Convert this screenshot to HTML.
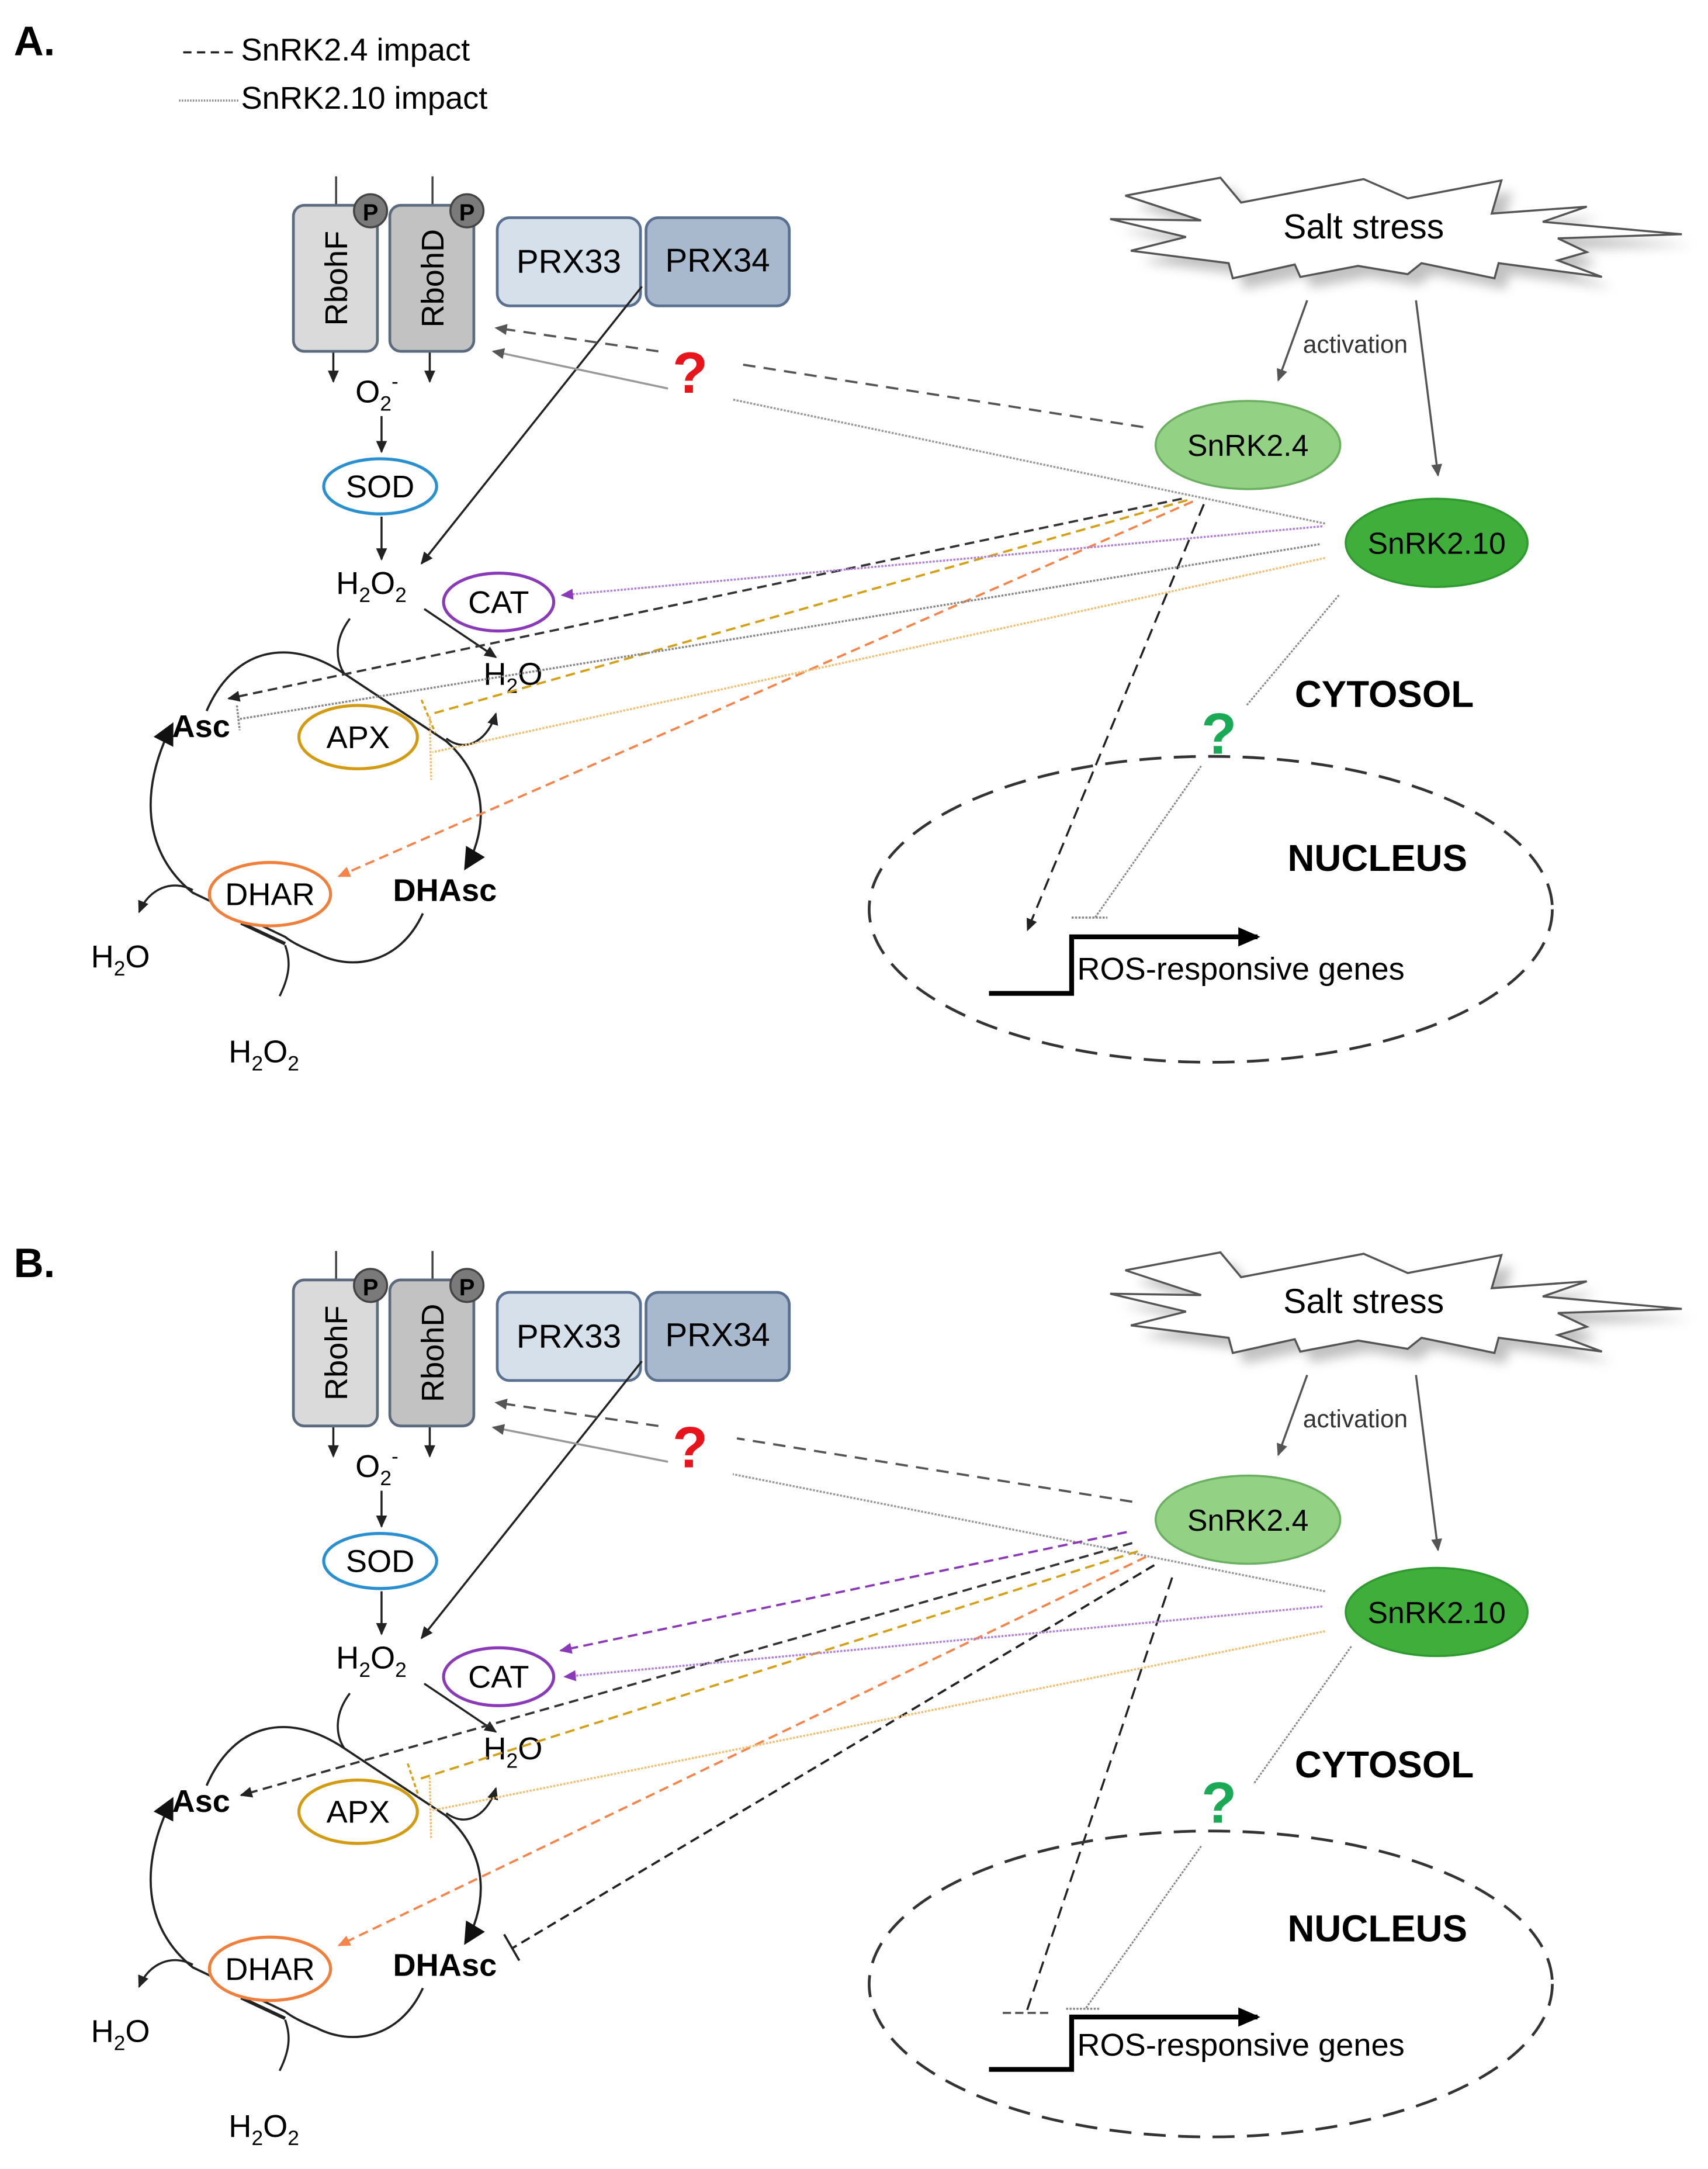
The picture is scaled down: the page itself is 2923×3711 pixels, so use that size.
<!DOCTYPE html>
<html><head><meta charset="utf-8"><style>
html,body{margin:0;padding:0;background:#fff}
svg{display:block}
text{font-family:"Liberation Sans",Arial,sans-serif}
</style></head><body>
<svg width="2923" height="3711" viewBox="0 0 1240 1574.3" preserveAspectRatio="none" xmlns="http://www.w3.org/2000/svg">
<defs>
<marker id="ak" markerWidth="10" markerHeight="10" refX="8" refY="5" orient="auto" markerUnits="userSpaceOnUse"><path d="M0,1 L9,5 L0,9 Z" fill="#222"/></marker>
<marker id="ag" markerWidth="10" markerHeight="10" refX="8" refY="5" orient="auto" markerUnits="userSpaceOnUse"><path d="M0,1 L9,5 L0,9 Z" fill="#555"/></marker>
<marker id="ap" markerWidth="10" markerHeight="10" refX="8" refY="5" orient="auto" markerUnits="userSpaceOnUse"><path d="M0,1 L9,5 L0,9 Z" fill="#8a3ab9"/></marker>
<marker id="ao" markerWidth="10" markerHeight="10" refX="8" refY="5" orient="auto" markerUnits="userSpaceOnUse"><path d="M0,1 L9,5 L0,9 Z" fill="#f4844a"/></marker>
<marker id="abig" markerWidth="18" markerHeight="18" refX="14" refY="9" orient="auto" markerUnits="userSpaceOnUse"><path d="M0,1 L16,9 L0,17 Z" fill="#111"/></marker>
<marker id="agene" markerWidth="18" markerHeight="16" refX="14" refY="8" orient="auto" markerUnits="userSpaceOnUse"><path d="M0,1 L16,8 L0,15 Z" fill="#000"/></marker>
<filter id="sh" x="-20%" y="-20%" width="140%" height="160%"><feGaussianBlur stdDeviation="4"/></filter>
</defs>

<!-- legend -->
<text x="10" y="40" font-size="30" font-weight="bold">A.</text>
<line x1="133" y1="38" x2="173" y2="38" stroke="#222" stroke-width="1.5" stroke-dasharray="6,4"/>
<text x="175" y="44" font-size="23">SnRK2.4 impact</text>
<line x1="130" y1="73" x2="173" y2="73" stroke="#888" stroke-width="1.5" stroke-dasharray="1,1"/>
<text x="175" y="79" font-size="23">SnRK2.10 impact</text>
<text x="10" y="927" font-size="30" font-weight="bold">B.</text>

<!-- ===== PANEL A ===== -->
<g id="pa">
<!-- Rboh -->
<line x1="244" y1="128" x2="244" y2="150" stroke="#444" stroke-width="1.5"/>
<line x1="314" y1="128" x2="314" y2="150" stroke="#444" stroke-width="1.5"/>
<rect x="213" y="149" width="61" height="106" rx="8" fill="#dadada" stroke="#5b6b7d" stroke-width="2"/>
<rect x="283" y="149" width="61" height="106" rx="8" fill="#c2c2c2" stroke="#5b6b7d" stroke-width="2"/>
<text transform="translate(252,202) rotate(-90)" font-size="23" text-anchor="middle">RbohF</text>
<text transform="translate(322,202) rotate(-90)" font-size="23" text-anchor="middle">RbohD</text>
<circle cx="269" cy="153" r="12" fill="#7a7a7a" stroke="#444" stroke-width="1.5"/>
<text x="269" y="160" font-size="17" font-weight="bold" text-anchor="middle">P</text>
<circle cx="339" cy="153" r="12" fill="#7a7a7a" stroke="#444" stroke-width="1.5"/>
<text x="339" y="160" font-size="17" font-weight="bold" text-anchor="middle">P</text>
<rect x="361" y="158" width="104" height="64" rx="9" fill="#d6e0ea" stroke="#5a7090" stroke-width="2"/>
<rect x="469" y="158" width="104" height="64" rx="9" fill="#a9b9cd" stroke="#5a7090" stroke-width="2"/>
<text x="413" y="198" font-size="24" text-anchor="middle">PRX33</text>
<text x="521" y="197" font-size="24" text-anchor="middle">PRX34</text>
<line x1="242" y1="256" x2="242" y2="277" stroke="#222" stroke-width="1.5" marker-end="url(#ak)"/>
<line x1="312" y1="256" x2="312" y2="277" stroke="#222" stroke-width="1.5" marker-end="url(#ak)"/>
<text x="258" y="292" font-size="23">O<tspan font-size="15" dy="6">2</tspan><tspan font-size="15" dy="-16">-</tspan></text>
<line x1="277" y1="302" x2="277" y2="328" stroke="#222" stroke-width="1.5" marker-end="url(#ak)"/>
<ellipse cx="276" cy="353" rx="41" ry="20" fill="#fff" stroke="#2a8fd0" stroke-width="2.2"/>
<text x="276" y="361" font-size="23" text-anchor="middle">SOD</text>
<line x1="277" y1="375" x2="277" y2="406" stroke="#222" stroke-width="1.5" marker-end="url(#ak)"/>
<text x="244" y="431" font-size="23">H<tspan font-size="15" dy="6">2</tspan><tspan dy="-6">O</tspan><tspan font-size="15" dy="6">2</tspan></text>
<line x1="466" y1="208" x2="306" y2="409" stroke="#222" stroke-width="1.5" marker-end="url(#ak)"/>
<ellipse cx="362" cy="437" rx="40" ry="21" fill="#fff" stroke="#8a3ab9" stroke-width="2.2"/>
<text x="362" y="445" font-size="23" text-anchor="middle">CAT</text>
<line x1="308" y1="442" x2="360" y2="477" stroke="#222" stroke-width="1.5" marker-end="url(#ak)"/>
<text x="351" y="497" font-size="23">H<tspan font-size="15" dy="6">2</tspan><tspan dy="-6">O</tspan></text>
<!-- cycle -->
<path d="M254,449 C242,465 244,480 250,489" fill="none" stroke="#222" stroke-width="1.5"/>
<path d="M150,516 C170,470 210,462 250,489 L324,538 C360,570 350,610 338,630" fill="none" stroke="#222" stroke-width="1.6" marker-end="url(#abig)"/>
<path d="M324,536 C340,548 355,535 360,518" fill="none" stroke="#222" stroke-width="1.5" marker-end="url(#ak)"/>
<ellipse cx="260" cy="535" rx="43" ry="23" fill="#fff" stroke="#d39b12" stroke-width="2.2"/>
<text x="260" y="543" font-size="23" text-anchor="middle">APX</text>
<text x="146" y="535" font-size="23" font-weight="bold" text-anchor="middle">Asc</text>
<text x="323" y="654" font-size="23" font-weight="bold" text-anchor="middle">DHAsc</text>
<path d="M307,663 C290,700 255,705 230,692 C220,688 212,684 207,680 L140,648 C105,620 100,575 125,526" fill="none" stroke="#222" stroke-width="1.6" marker-end="url(#abig)"/>
<line x1="175" y1="670" x2="207" y2="685" stroke="#222" stroke-width="2.5"/>
<path d="M140,646 C125,638 108,645 101,662" fill="none" stroke="#222" stroke-width="1.5" marker-end="url(#ak)"/>
<path d="M203,723 C212,705 210,695 207,686" fill="none" stroke="#222" stroke-width="1.5"/>
<ellipse cx="196" cy="649" rx="44" ry="23" fill="#fff" stroke="#f07f3c" stroke-width="2.2"/>
<text x="196" y="657" font-size="23" text-anchor="middle">DHAR</text>
<text x="66" y="702" font-size="23">H<tspan font-size="15" dy="6">2</tspan><tspan dy="-6">O</tspan></text>
<text x="166" y="771" font-size="23">H<tspan font-size="15" dy="6">2</tspan><tspan dy="-6">O</tspan><tspan font-size="15" dy="6">2</tspan></text>

<!-- salt stress -->
<polygon points="817,142 886,129 901,147 990,130 1022,144 1090,131 1083,155 1152,150 1120,161 1221,170 1131,173 1152,183 1131,189 1163,201 1088,191 1085,202 1032,191 1022,199 986,193 944,201 940,192 895,202 892,191 821,182 861,172 806,159 872,160" fill="#999" filter="url(#sh)" transform="translate(8,8)" opacity="0.6"/>
<polygon points="817,142 886,129 901,147 990,130 1022,144 1090,131 1083,155 1152,150 1120,161 1221,170 1131,173 1152,183 1131,189 1163,201 1088,191 1085,202 1032,191 1022,199 986,193 944,201 940,192 895,202 892,191 821,182 861,172 806,159 872,160" fill="#fff" stroke="#555" stroke-width="1.5"/>
<text x="990" y="173" font-size="25" text-anchor="middle">Salt stress</text>
<line x1="949" y1="218" x2="928" y2="276" stroke="#555" stroke-width="1.5" marker-end="url(#ag)"/>
<line x1="1028" y1="218" x2="1044" y2="345" stroke="#555" stroke-width="1.5" marker-end="url(#ag)"/>
<text x="984" y="256" font-size="18" text-anchor="middle" fill="#333">activation</text>
<ellipse cx="906" cy="323" rx="67" ry="32" fill="#93d184" stroke="#6ab060" stroke-width="1.5"/>
<text x="906" y="331" font-size="22" text-anchor="middle">SnRK2.4</text>
<ellipse cx="1043" cy="394" rx="66" ry="32" fill="#3fae3a" stroke="#2f9a2f" stroke-width="1.5"/>
<text x="1043" y="402" font-size="22" text-anchor="middle">SnRK2.10</text>

<!-- connectors to Rboh -->
<line x1="830" y1="310" x2="535" y2="264" stroke="#555" stroke-width="1.6" stroke-dasharray="9,6"/>
<line x1="478" y1="255" x2="360" y2="238" stroke="#555" stroke-width="1.6" stroke-dasharray="9,6" marker-end="url(#ag)"/>
<line x1="962" y1="380" x2="532" y2="290" stroke="#999" stroke-width="1.5" stroke-dasharray="1.5,1"/>
<line x1="485" y1="282" x2="358" y2="255" stroke="#999" stroke-width="1.5" marker-end="url(#ag)"/>
<text x="501" y="285" font-size="42" font-weight="bold" fill="#e8141b" text-anchor="middle">?</text>

<!-- SnRK2.4 impacts -->
<line x1="858" y1="362" x2="166" y2="507" stroke="#333" stroke-width="1.6" stroke-dasharray="7,4" marker-end="url(#ak)"/>
<line x1="862" y1="363" x2="314" y2="518" stroke="#d4a017" stroke-width="1.6" stroke-dasharray="7,4"/>
<line x1="306" y1="508" x2="316" y2="532" stroke="#d4a017" stroke-width="1.5" stroke-dasharray="3,2"/>
<line x1="866" y1="364" x2="246" y2="636" stroke="#f4844a" stroke-width="1.6" stroke-dasharray="7,4" marker-end="url(#ao)"/>
<line x1="874" y1="366" x2="746" y2="675" stroke="#222" stroke-width="1.5" stroke-dasharray="9,5" marker-end="url(#ak)"/>

<!-- SnRK2.10 impacts -->
<line x1="960" y1="382" x2="408" y2="432" stroke="#b27fd6" stroke-width="1.5" stroke-dasharray="1.5,1" marker-end="url(#ap)"/>
<line x1="958" y1="395" x2="173" y2="522" stroke="#888" stroke-width="1.5" stroke-dasharray="1.5,1"/>
<line x1="172" y1="512" x2="174" y2="530" stroke="#888" stroke-width="1.5" stroke-dasharray="1.5,1"/>
<line x1="962" y1="405" x2="314" y2="546" stroke="#f0c070" stroke-width="1.5" stroke-dasharray="1.5,1"/>
<line x1="312" y1="520" x2="313" y2="566" stroke="#f0c070" stroke-width="1.5" stroke-dasharray="1.5,1"/>
<line x1="972" y1="432" x2="905" y2="512" stroke="#888" stroke-width="1.3" stroke-dasharray="1.5,1"/>
<line x1="872" y1="556" x2="795" y2="666" stroke="#888" stroke-width="1.3" stroke-dasharray="1.5,1"/>
<line x1="778" y1="666" x2="804" y2="666" stroke="#888" stroke-width="1.5" stroke-dasharray="1.5,1"/>
<text x="885" y="547" font-size="42" font-weight="bold" fill="#1aaa55" text-anchor="middle">?</text>

<!-- nucleus -->
<text x="1005" y="513" font-size="27" font-weight="bold" text-anchor="middle">CYTOSOL</text>
<ellipse cx="879" cy="660" rx="248" ry="111" fill="none" stroke="#333" stroke-width="2" stroke-dasharray="16,9"/>
<text x="1000" y="632" font-size="27" font-weight="bold" text-anchor="middle">NUCLEUS</text>
<polyline points="718,721 778,721 778,680 913,680" fill="none" stroke="#000" stroke-width="3.5" marker-end="url(#agene)"/>
<text x="782" y="711" font-size="23">ROS-responsive genes</text>
</g>

<!-- ===== PANEL B ===== -->
<g transform="translate(0,780)">
<line x1="244" y1="128" x2="244" y2="150" stroke="#444" stroke-width="1.5"/>
<line x1="314" y1="128" x2="314" y2="150" stroke="#444" stroke-width="1.5"/>
<rect x="213" y="149" width="61" height="106" rx="8" fill="#dadada" stroke="#5b6b7d" stroke-width="2"/>
<rect x="283" y="149" width="61" height="106" rx="8" fill="#c2c2c2" stroke="#5b6b7d" stroke-width="2"/>
<text transform="translate(252,202) rotate(-90)" font-size="23" text-anchor="middle">RbohF</text>
<text transform="translate(322,202) rotate(-90)" font-size="23" text-anchor="middle">RbohD</text>
<circle cx="269" cy="153" r="12" fill="#7a7a7a" stroke="#444" stroke-width="1.5"/>
<text x="269" y="160" font-size="17" font-weight="bold" text-anchor="middle">P</text>
<circle cx="339" cy="153" r="12" fill="#7a7a7a" stroke="#444" stroke-width="1.5"/>
<text x="339" y="160" font-size="17" font-weight="bold" text-anchor="middle">P</text>
<rect x="361" y="158" width="104" height="64" rx="9" fill="#d6e0ea" stroke="#5a7090" stroke-width="2"/>
<rect x="469" y="158" width="104" height="64" rx="9" fill="#a9b9cd" stroke="#5a7090" stroke-width="2"/>
<text x="413" y="198" font-size="24" text-anchor="middle">PRX33</text>
<text x="521" y="197" font-size="24" text-anchor="middle">PRX34</text>
<line x1="242" y1="256" x2="242" y2="277" stroke="#222" stroke-width="1.5" marker-end="url(#ak)"/>
<line x1="312" y1="256" x2="312" y2="277" stroke="#222" stroke-width="1.5" marker-end="url(#ak)"/>
<text x="258" y="292" font-size="23">O<tspan font-size="15" dy="6">2</tspan><tspan font-size="15" dy="-16">-</tspan></text>
<line x1="277" y1="302" x2="277" y2="328" stroke="#222" stroke-width="1.5" marker-end="url(#ak)"/>
<ellipse cx="276" cy="353" rx="41" ry="20" fill="#fff" stroke="#2a8fd0" stroke-width="2.2"/>
<text x="276" y="361" font-size="23" text-anchor="middle">SOD</text>
<line x1="277" y1="375" x2="277" y2="406" stroke="#222" stroke-width="1.5" marker-end="url(#ak)"/>
<text x="244" y="431" font-size="23">H<tspan font-size="15" dy="6">2</tspan><tspan dy="-6">O</tspan><tspan font-size="15" dy="6">2</tspan></text>
<line x1="466" y1="208" x2="306" y2="409" stroke="#222" stroke-width="1.5" marker-end="url(#ak)"/>
<ellipse cx="362" cy="437" rx="40" ry="21" fill="#fff" stroke="#8a3ab9" stroke-width="2.2"/>
<text x="362" y="445" font-size="23" text-anchor="middle">CAT</text>
<line x1="308" y1="442" x2="360" y2="477" stroke="#222" stroke-width="1.5" marker-end="url(#ak)"/>
<text x="351" y="497" font-size="23">H<tspan font-size="15" dy="6">2</tspan><tspan dy="-6">O</tspan></text>
<path d="M254,449 C242,465 244,480 250,489" fill="none" stroke="#222" stroke-width="1.5"/>
<path d="M150,516 C170,470 210,462 250,489 L324,538 C360,570 350,610 338,630" fill="none" stroke="#222" stroke-width="1.6" marker-end="url(#abig)"/>
<path d="M324,536 C340,548 355,535 360,518" fill="none" stroke="#222" stroke-width="1.5" marker-end="url(#ak)"/>
<ellipse cx="260" cy="535" rx="43" ry="23" fill="#fff" stroke="#d39b12" stroke-width="2.2"/>
<text x="260" y="543" font-size="23" text-anchor="middle">APX</text>
<text x="146" y="535" font-size="23" font-weight="bold" text-anchor="middle">Asc</text>
<text x="323" y="654" font-size="23" font-weight="bold" text-anchor="middle">DHAsc</text>
<path d="M307,663 C290,700 255,705 230,692 C220,688 212,684 207,680 L140,648 C105,620 100,575 125,526" fill="none" stroke="#222" stroke-width="1.6" marker-end="url(#abig)"/>
<line x1="175" y1="670" x2="207" y2="685" stroke="#222" stroke-width="2.5"/>
<path d="M140,646 C125,638 108,645 101,662" fill="none" stroke="#222" stroke-width="1.5" marker-end="url(#ak)"/>
<path d="M203,723 C212,705 210,695 207,686" fill="none" stroke="#222" stroke-width="1.5"/>
<ellipse cx="196" cy="649" rx="44" ry="23" fill="#fff" stroke="#f07f3c" stroke-width="2.2"/>
<text x="196" y="657" font-size="23" text-anchor="middle">DHAR</text>
<text x="66" y="702" font-size="23">H<tspan font-size="15" dy="6">2</tspan><tspan dy="-6">O</tspan></text>
<text x="166" y="771" font-size="23">H<tspan font-size="15" dy="6">2</tspan><tspan dy="-6">O</tspan><tspan font-size="15" dy="6">2</tspan></text>

<polygon points="817,142 886,129 901,147 990,130 1022,144 1090,131 1083,155 1152,150 1120,161 1221,170 1131,173 1152,183 1131,189 1163,201 1088,191 1085,202 1032,191 1022,199 986,193 944,201 940,192 895,202 892,191 821,182 861,172 806,159 872,160" fill="#999" filter="url(#sh)" transform="translate(8,8)" opacity="0.6"/>
<polygon points="817,142 886,129 901,147 990,130 1022,144 1090,131 1083,155 1152,150 1120,161 1221,170 1131,173 1152,183 1131,189 1163,201 1088,191 1085,202 1032,191 1022,199 986,193 944,201 940,192 895,202 892,191 821,182 861,172 806,159 872,160" fill="#fff" stroke="#555" stroke-width="1.5"/>
<text x="990" y="173" font-size="25" text-anchor="middle">Salt stress</text>
<line x1="949" y1="218" x2="928" y2="276" stroke="#555" stroke-width="1.5" marker-end="url(#ag)"/>
<line x1="1028" y1="218" x2="1044" y2="345" stroke="#555" stroke-width="1.5" marker-end="url(#ag)"/>
<text x="984" y="256" font-size="18" text-anchor="middle" fill="#333">activation</text>
<ellipse cx="906" cy="323" rx="67" ry="32" fill="#93d184" stroke="#6ab060" stroke-width="1.5"/>
<text x="906" y="331" font-size="22" text-anchor="middle">SnRK2.4</text>
<ellipse cx="1043" cy="390" rx="66" ry="32" fill="#3fae3a" stroke="#2f9a2f" stroke-width="1.5"/>
<text x="1043" y="398" font-size="22" text-anchor="middle">SnRK2.10</text>

<line x1="822" y1="310" x2="535" y2="264" stroke="#555" stroke-width="1.6" stroke-dasharray="9,6"/>
<line x1="478" y1="255" x2="360" y2="238" stroke="#555" stroke-width="1.6" stroke-dasharray="9,6" marker-end="url(#ag)"/>
<line x1="962" y1="375" x2="532" y2="290" stroke="#999" stroke-width="1.5" stroke-dasharray="1.5,1"/>
<line x1="485" y1="281" x2="358" y2="256" stroke="#999" stroke-width="1.5" marker-end="url(#ag)"/>
<text x="501" y="285" font-size="42" font-weight="bold" fill="#e8141b" text-anchor="middle">?</text>

<!-- SnRK2.4 impacts B -->
<line x1="818" y1="332" x2="407" y2="418" stroke="#8a3ab9" stroke-width="1.6" stroke-dasharray="7,4" marker-end="url(#ap)"/>
<line x1="822" y1="340" x2="175" y2="523" stroke="#333" stroke-width="1.6" stroke-dasharray="7,4" marker-end="url(#ak)"/>
<line x1="826" y1="346" x2="302" y2="512" stroke="#d4a017" stroke-width="1.6" stroke-dasharray="7,4"/>
<line x1="296" y1="500" x2="304" y2="524" stroke="#d4a017" stroke-width="1.5" stroke-dasharray="3,2"/>
<line x1="832" y1="350" x2="246" y2="632" stroke="#f4844a" stroke-width="1.6" stroke-dasharray="7,4" marker-end="url(#ao)"/>
<line x1="838" y1="356" x2="372" y2="634" stroke="#222" stroke-width="1.6" stroke-dasharray="7,4"/>
<line x1="366" y1="624" x2="377" y2="643" stroke="#222" stroke-width="1.6"/>
<line x1="851" y1="365" x2="745" y2="681" stroke="#222" stroke-width="1.5" stroke-dasharray="9,5"/>
<line x1="728" y1="681" x2="764" y2="681" stroke="#555" stroke-width="1.5" stroke-dasharray="6,3"/>

<!-- SnRK2.10 impacts B -->
<line x1="960" y1="386" x2="410" y2="437" stroke="#b27fd6" stroke-width="1.5" stroke-dasharray="1.5,1" marker-end="url(#ap)"/>
<line x1="962" y1="404" x2="314" y2="534" stroke="#f0c070" stroke-width="1.5" stroke-dasharray="1.5,1"/>
<line x1="312" y1="510" x2="313" y2="555" stroke="#f0c070" stroke-width="1.5" stroke-dasharray="1.5,1"/>
<line x1="981" y1="415" x2="910" y2="515" stroke="#888" stroke-width="1.3" stroke-dasharray="1.5,1"/>
<line x1="872" y1="560" x2="788" y2="678" stroke="#888" stroke-width="1.3" stroke-dasharray="1.5,1"/>
<line x1="774" y1="678" x2="799" y2="678" stroke="#888" stroke-width="1.5" stroke-dasharray="1.5,1"/>
<text x="885" y="543" font-size="42" font-weight="bold" fill="#1aaa55" text-anchor="middle">?</text>

<text x="1005" y="510" font-size="27" font-weight="bold" text-anchor="middle">CYTOSOL</text>
<ellipse cx="879" cy="660" rx="248" ry="111" fill="none" stroke="#333" stroke-width="2" stroke-dasharray="16,9"/>
<text x="1000" y="629" font-size="27" font-weight="bold" text-anchor="middle">NUCLEUS</text>
<polyline points="718,722 778,722 778,684 913,684" fill="none" stroke="#000" stroke-width="3.5" marker-end="url(#agene)"/>
<text x="782" y="712" font-size="23">ROS-responsive genes</text>
</g>
</svg>
</body></html>
